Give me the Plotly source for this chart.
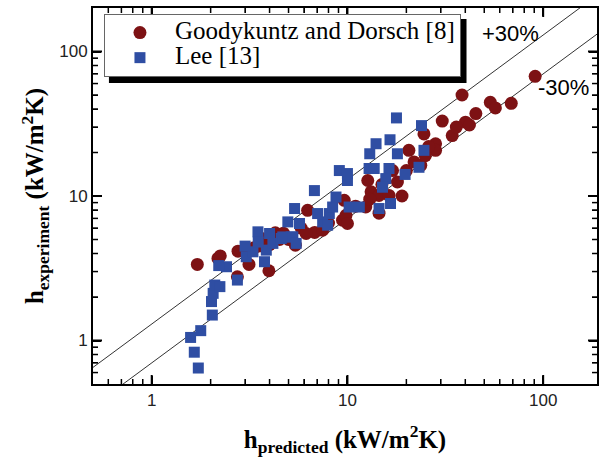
import math
import plotly.graph_objects as go

# Goodykuntz and Dorsch [8]
gd_x = [1.71, 2.18, 2.24, 2.76, 3.33, 3.14, 3.97, 4.28, 3.65, 2.74, 5.42, 4.71,
        3.0, 3.5, 4.0, 4.5, 5.0, 5.8, 6.8, 8.0,
        6.26, 6.15, 7.47, 9.44, 9.63, 9.83, 10.0, 12.4, 12.7, 13.2, 14.5, 16.3,
        11.0, 13.0, 15.0, 18.0, 19.0, 14.5, 20.0,
        17.0, 20.6, 21.9, 23.7, 24.6, 28.2, 28.2, 30.5, 34.3, 40.1, 45.3,
        25.0, 26.0, 36.0, 42.0,
        38.5, 53.7, 57.0, 68.7, 91.0]
gd_y = [3.36, 3.70, 3.85, 4.15, 4.38, 3.36, 3.04, 5.56, 5.08, 2.76, 4.57, 5.53,
        4.3, 4.5, 4.6, 5.0, 5.0, 6.0, 5.6, 6.5,
        7.96, 5.50, 5.80, 6.80, 9.34, 7.36, 6.45, 8.39, 12.8, 10.7, 10.1, 10.1,
        8.5, 9.5, 12.0, 12.5, 10.0, 7.6, 15.0,
        15.0, 20.7, 17.2, 16.3, 26.9, 23.0, 20.7, 33.0, 26.2, 32.4, 37.2,
        19.0, 22.0, 30.0, 31.0,
        50.0, 44.5, 40.7, 43.8, 67.3]

# Lee [13]
lee_x = [1.73, 1.65, 1.58, 1.78, 2.04, 2.02, 2.06, 2.10, 2.23, 2.41, 2.74, 3.04,
         3.29, 3.77, 3.85, 3.49, 4.16, 4.59, 5.16, 4.67, 5.26, 5.47, 4.96, 5.69,
         5.37, 6.78, 7.47, 7.92, 7.04, 8.08, 8.40, 8.74, 9.09, 10.0, 10.0, 10.2,
         11.5, 12.9, 13.7, 16.3, 15.7, 15.1, 14.5, 16.6, 19.7, 23.2, 13.0, 18.0,
         24.6, 14.0, 16.5, 23.9, 17.8, 3.0, 3.5, 4.0, 2.2]
lee_y = [0.645, 0.83, 1.05, 1.17, 1.50, 1.86, 2.12, 2.42, 2.36, 3.24, 2.62, 3.80,
         4.11, 3.51, 4.22, 5.65, 4.70, 5.08, 5.21, 5.21, 5.21, 4.70, 6.62, 6.45,
         8.19, 10.9, 6.62, 6.28, 7.56, 7.56, 8.39, 9.84, 15.0, 14.3, 12.8, 8.39,
         8.39, 15.5, 15.5, 15.5, 13.2, 11.5, 8.19, 8.87, 14.1, 15.8, 19.6, 19.6,
         20.7, 23.0, 24.5, 30.7, 34.7, 4.5, 4.8, 5.5, 3.3]

series_names = ["Goodykuntz and Dorsch [8]", "Lee [13]"]

line_x = [0.5, 200]
upper_y = [v * 1.3 for v in line_x]
lower_y = [v * 0.7 for v in line_x]

tick_vals = [1, 10, 100]
tick_text = ["1", "10", "100"]
minor_vals = [round(m * d, 3) for d in (0.1, 1, 10, 100) for m in range(2, 10)]

X_RANGE = [-0.300, 2.275]
Y_RANGE = [-0.301, 2.301]

fig = go.Figure()
fig.add_trace(go.Scatter(x=line_x, y=upper_y, mode="lines",
                         line=dict(color="#333333", width=1), showlegend=False, hoverinfo="skip"))
fig.add_trace(go.Scatter(x=line_x, y=lower_y, mode="lines",
                         line=dict(color="#333333", width=1), showlegend=False, hoverinfo="skip"))
fig.add_trace(go.Scatter(x=gd_x, y=gd_y, mode="markers",
                         name="<span style='font-size:25px'>%s</span>" % series_names[0],
                         marker=dict(symbol="circle", size=13, color="#7d1214", line=dict(width=0))))
fig.add_trace(go.Scatter(x=lee_x, y=lee_y, mode="markers",
                         name="<span style='font-size:25px'>%s</span>" % series_names[1],
                         marker=dict(symbol="square", size=11, color="#2f4ea3", line=dict(width=0))))

axis_common = dict(
    type="log", showgrid=False, zeroline=False,
    showline=True, linecolor="black", linewidth=2, mirror="allticks",
    ticks="inside", ticklen=8, tickwidth=1.5, tickcolor="black",
    tickvals=tick_vals, ticktext=tick_text,
    tickfont=dict(family="Liberation Sans", size=17, color="#222222"),
    minor=dict(ticks="inside", ticklen=5, tickwidth=1.2, tickcolor="black",
               tickvals=minor_vals, showgrid=False),
)

fig.update_xaxes(range=X_RANGE, **axis_common,
                 title=dict(text="<b>h<sub>predicted</sub> (kW/m<sup>2</sup>K)</b>",
                            font=dict(family="Liberation Serif", size=25, color="black"),
                            standoff=21))
fig.update_yaxes(range=Y_RANGE, **axis_common,
                 title=dict(text="<b>h<sub>experiment</sub> (kW/m<sup>2</sup>K)</b>",
                            font=dict(family="Liberation Serif", size=25, color="black"),
                            standoff=8))

# inside tick marks on all four sides, also drawn as shapes on the axes' own scales
def in_range(v, rng):
    return rng[0] + 1e-3 < math.log10(v) < rng[1] - 1e-3

tick_sets = [(tick_vals, 9, 2), (minor_vals, 5, 1.5)]
for vals, ln, w in tick_sets:
    for v in vals:
        if in_range(v, X_RANGE):
            for anchor, sgn in ((0, 1), (1, -1)):
                fig.add_shape(type="line", xref="x", yref="paper", x0=v, x1=v,
                              ysizemode="pixel", yanchor=anchor, y0=0, y1=sgn * ln,
                              line=dict(color="black", width=w), layer="above")
        if in_range(v, Y_RANGE):
            for anchor, sgn in ((0, 1), (1, -1)):
                fig.add_shape(type="line", xref="paper", yref="y", y0=v, y1=v,
                              xsizemode="pixel", xanchor=anchor, x0=0, x1=sgn * ln,
                              line=dict(color="black", width=w), layer="above")

fig.add_annotation(x=1.834, y=2.122, xref="x", yref="y", text="+30%", showarrow=False,
                   font=dict(family="Liberation Sans", size=22, color="black"))
fig.add_annotation(x=2.103, y=1.749, xref="x", yref="y", text="-30%", showarrow=False,
                   font=dict(family="Liberation Sans", size=22, color="black"))

# legend shadow
fig.add_shape(type="rect", xref="paper", yref="paper",
              x0=(109 - 93) / 506, x1=(468 - 93) / 506,
              y0=1 - (83 - 8) / 376, y1=1 - (19 - 8) / 376,
              fillcolor="black", line=dict(width=0), layer="above")

fig.update_layout(
    width=602, height=467,
    margin=dict(l=93, r=3, t=8, b=83),
    paper_bgcolor="white", plot_bgcolor="white",
    legend=dict(x=(104 - 93) / 506, y=1 - (14 - 8) / 376, xanchor="left", yanchor="top",
                bgcolor="white", bordercolor="#666666", borderwidth=1,
                font=dict(family="Liberation Serif", size=17, color="black"),
                itemwidth=60, tracegroupgap=0),
    showlegend=True,
)

fig.write_html("out.html")
